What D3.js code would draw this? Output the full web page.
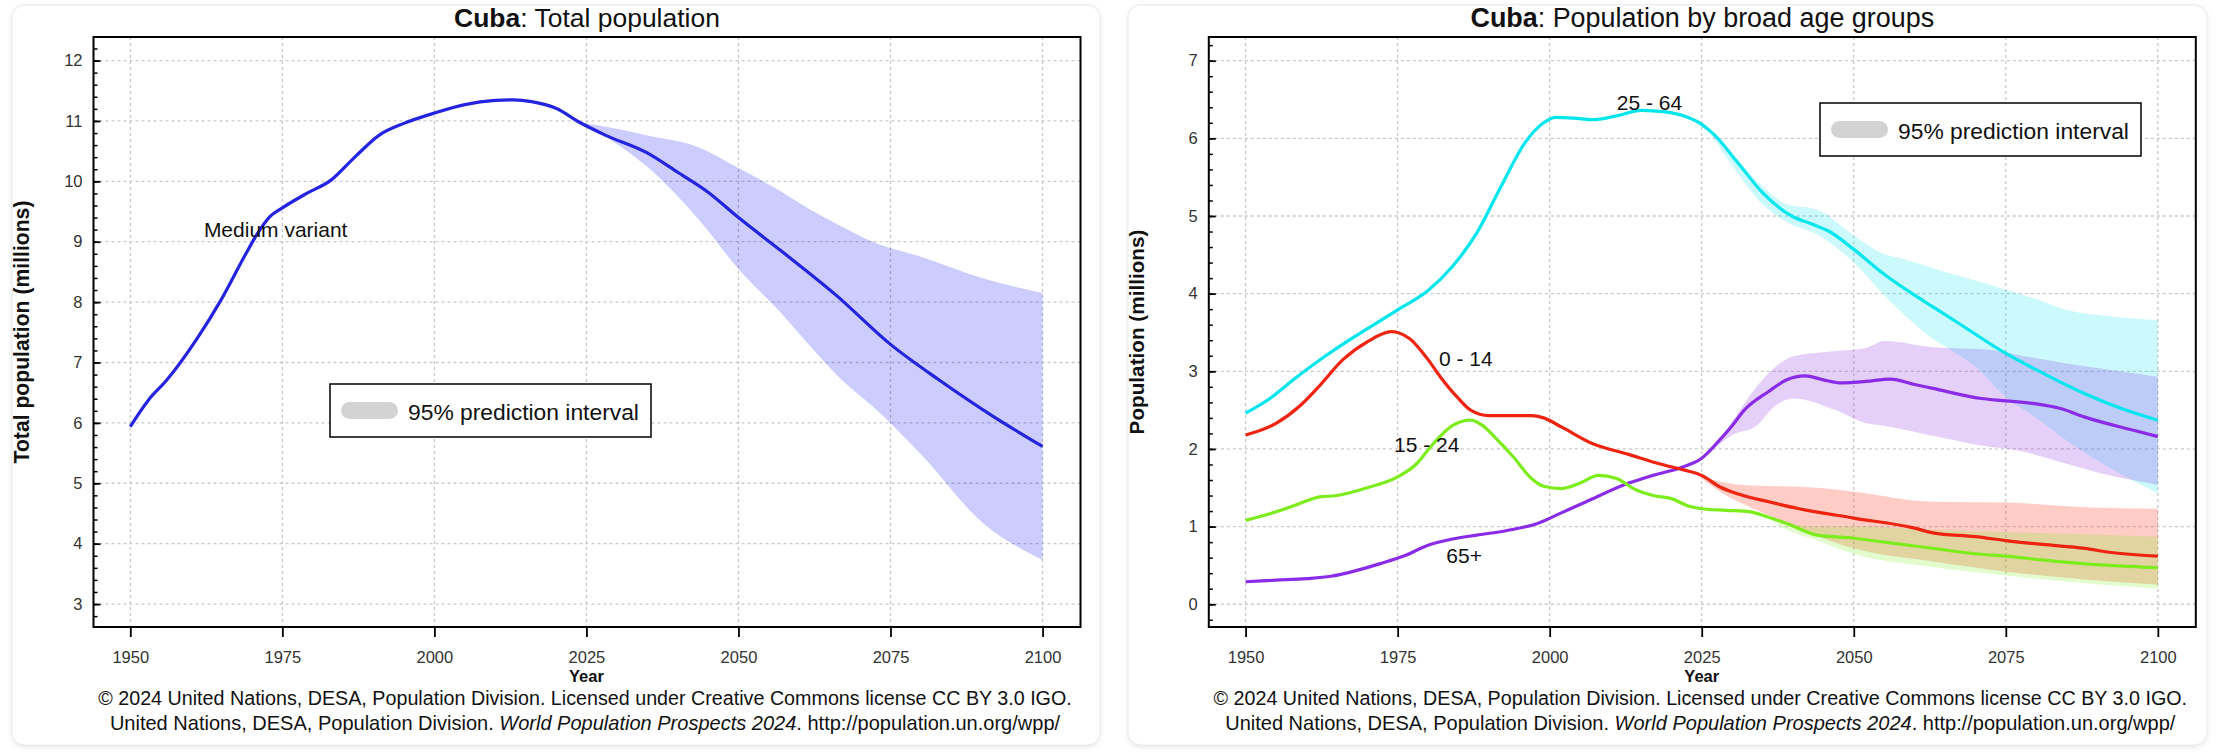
<!DOCTYPE html>
<html lang="en">
<head>
<meta charset="utf-8">
<title>Cuba population</title>
<script src="https://cdn.jsdelivr.net/npm/d3@7"></script>
<style>
  body { margin: 0; background: #ffffff; }
  svg text { font-family: "Liberation Sans", Arial, sans-serif; fill: #111; }
  .tick text { fill: #333; }
</style>
</head>
<body>
<script>

// ---- data (millions) ----
var xTicks = [1950, 1975, 2000, 2025, 2050, 2075, 2100];
var yTicksTotal = [3, 4, 5, 6, 7, 8, 9, 10, 11, 12];
var yTicksAge = [0, 1, 2, 3, 4, 5, 6, 7];

var totalYears = [1950,1953,1956,1961,1965,1969,1971,1973,1975,1979,1983,1987,1991,1995,2000,2005,2010,2013,2016,2020,2024,2028,2035,2040,2045,2050,2057,2066,2075,2083,2092,2100];
var totalPop   = [5.94,6.38,6.71,7.40,8.05,8.80,9.15,9.42,9.56,9.80,10.02,10.41,10.77,10.96,11.13,11.27,11.34,11.35,11.32,11.21,10.97,10.77,10.47,10.15,9.82,9.40,8.85,8.12,7.30,6.71,6.10,5.61];

var totalPiYears = [2024,2030,2035,2043,2050,2057,2062,2067,2072,2080,2090,2100];
var totalPiLow   = [10.97,10.62,10.24,9.42,8.55,7.82,7.25,6.71,6.28,5.48,4.36,3.73];
var totalPiHigh  = [10.97,10.87,10.76,10.58,10.22,9.83,9.52,9.25,9.00,8.75,8.40,8.15];

var years0_14 = [1950,1955,1959,1962,1966,1970,1974,1975,1977,1980,1982,1985,1987,1990,1997,1999,2002,2007,2013,2018,2022,2025,2028,2031,2036,2041,2050,2060,2063,2070,2075,2081,2088,2092,2100];
var pop0_14   = [2.18,2.33,2.56,2.80,3.15,3.38,3.51,3.50,3.42,3.15,2.93,2.65,2.50,2.43,2.43,2.40,2.28,2.07,1.93,1.81,1.73,1.66,1.51,1.42,1.32,1.23,1.11,0.98,0.92,0.87,0.82,0.77,0.72,0.67,0.62];

var years15_24 = [1950,1955,1959,1962,1965,1970,1975,1978,1981,1984,1987,1989,1991,1994,1997,1999,2002,2005,2008,2011,2014,2017,2020,2023,2025,2029,2033,2036,2039,2044,2050,2055,2060,2063,2070,2075,2081,2088,2092,2100];
var pop15_24   = [1.08,1.19,1.30,1.38,1.40,1.50,1.64,1.80,2.08,2.30,2.37,2.30,2.15,1.90,1.62,1.52,1.49,1.56,1.66,1.62,1.48,1.40,1.36,1.26,1.23,1.21,1.19,1.12,1.04,0.89,0.85,0.80,0.75,0.72,0.65,0.62,0.57,0.52,0.50,0.47];

var years25_64 = [1950,1954,1958,1963,1968,1975,1980,1984,1988,1992,1996,1999,2001,2004,2007,2011,2015,2019,2022,2025,2027,2031,2035,2040,2043,2046,2050,2055,2060,2063,2068,2075,2080,2088,2094,2100];
var pop25_64   = [2.46,2.65,2.90,3.19,3.45,3.79,4.04,4.35,4.78,5.38,5.95,6.20,6.27,6.26,6.24,6.29,6.36,6.34,6.29,6.18,6.05,5.68,5.30,4.99,4.90,4.80,4.57,4.25,3.98,3.83,3.58,3.23,3.02,2.71,2.52,2.37];

var years65 = [1950,1955,1960,1964,1968,1972,1976,1980,1984,1988,1993,1998,2002,2006,2013,2017,2022,2025,2028,2030,2032,2036,2039,2042,2045,2048,2052,2056,2060,2063,2071,2075,2080,2084,2088,2096,2100];
var pop65   = [0.29,0.31,0.33,0.36,0.43,0.52,0.62,0.76,0.84,0.89,0.95,1.04,1.18,1.32,1.56,1.66,1.77,1.88,2.12,2.30,2.50,2.74,2.89,2.94,2.89,2.85,2.87,2.90,2.83,2.78,2.65,2.62,2.58,2.52,2.41,2.24,2.16];

// 95% prediction intervals
var pi0_14Years = [2024,2028,2033,2038,2044,2050,2063,2075,2088,2100];
var pi0_14Low   = [1.68,1.45,1.25,1.08,0.88,0.72,0.55,0.42,0.32,0.25];
var pi0_14High  = [1.68,1.58,1.53,1.52,1.50,1.45,1.32,1.31,1.25,1.23];

var pi15_24Years = [2033,2036,2038,2044,2050,2063,2075,2088,2100];
var pi15_24Low   = [1.19,1.10,1.00,0.82,0.65,0.48,0.37,0.27,0.20];
var pi15_24High  = [1.19,1.14,1.08,1.00,1.00,0.96,0.93,0.90,0.87];

var pi25_64Years = [2026,2030,2035,2039,2044,2050,2055,2058,2063,2065,2070,2075,2080,2085,2092,2100];
var pi25_64Low   = [6.12,5.65,5.15,4.92,4.76,4.40,3.98,3.75,3.42,3.32,3.06,2.67,2.40,2.11,1.76,1.43];
var pi25_64High  = [6.12,5.80,5.38,5.15,5.08,4.75,4.51,4.45,4.33,4.28,4.17,4.05,3.93,3.79,3.71,3.66];

var pi65Years = [2026,2030,2034,2037,2040,2047,2052,2055,2063,2072,2077,2085,2092,2100];
var pi65Low   = [1.92,2.18,2.30,2.55,2.65,2.50,2.33,2.30,2.17,2.03,1.98,1.81,1.66,1.54];
var pi65High  = [1.92,2.35,2.80,3.05,3.19,3.26,3.30,3.39,3.31,3.28,3.21,3.10,3.02,2.93];

// ---- layout ----
var W = 2224, H = 756;
var plotW = 987, plotTop = 37, plotBottom = 627;
var xDomain = [1943.95, 2106.24];

var svg = d3.select("body").append("svg")
    .attr("width", W)
    .attr("height", H);

var defs = svg.append("defs");
defs.append("filter").attr("id", "shadow")
    .attr("x", "-5%").attr("y", "-5%").attr("width", "110%").attr("height", "110%")
  .append("feGaussianBlur").attr("stdDeviation", 2.5);

function zipSeries(years, a, b) {
  return years.map(function(yr, i) { return {year: yr, v: a[i], v2: b ? b[i] : null}; });
}

function fitText(sel, width) {
  var w = sel.node().getComputedTextLength();
  var fs = parseFloat(sel.style("font-size"));
  sel.style("font-size", (fs * width / w) + "px");
}

function card(x0, w) {
  svg.append("rect").attr("x", x0).attr("y", 6).attr("width", w).attr("height", 741)
    .attr("rx", 13).attr("fill", "#e4e4e4").attr("filter", "url(#shadow)");
  svg.append("rect").attr("x", x0).attr("y", 5).attr("width", w).attr("height", 740)
    .attr("rx", 13).attr("fill", "#fff").attr("stroke", "#ececec");
}

function panel(cfg) {
  var left = cfg.left;
  var x = d3.scaleLinear().domain(xDomain).range([left, left + plotW]);
  var y = d3.scaleLinear().domain(cfg.yDomain).range([plotBottom, plotTop]);
  var cx = left + plotW / 2;

  var clipId = "clip" + cfg.id;
  defs.append("clipPath").attr("id", clipId).append("rect")
    .attr("x", left).attr("y", plotTop).attr("width", plotW).attr("height", plotBottom - plotTop);

  // grid
  var grid = svg.append("g").attr("stroke", "#c9c9c9").attr("stroke-width", 1.3).attr("stroke-dasharray", "3,3");
  grid.selectAll(".gx").data(xTicks).enter().append("line")
    .attr("x1", function(d) { return x(d); }).attr("x2", function(d) { return x(d); })
    .attr("y1", plotTop).attr("y2", plotBottom);
  grid.selectAll(".gy").data(cfg.yTicks).enter().append("line")
    .attr("x1", left).attr("x2", left + plotW)
    .attr("y1", function(d) { return y(d); }).attr("y2", function(d) { return y(d); });

  var g = svg.append("g").attr("clip-path", "url(#" + clipId + ")");

  var area = d3.area().curve(d3.curveMonotoneX)
    .x(function(d) { return x(d.year); })
    .y0(function(d) { return y(d.v); })
    .y1(function(d) { return y(d.v2); });
  var line = d3.line().curve(d3.curveMonotoneX)
    .x(function(d) { return x(d.year); })
    .y(function(d) { return y(d.v); });

  cfg.bands.forEach(function(b) {
    g.append("path").datum(zipSeries(b.years, b.low, b.high))
      .attr("d", area).attr("fill", b.color).attr("fill-opacity", b.opacity);
  });
  cfg.lines.forEach(function(s) {
    g.append("path").datum(zipSeries(s.years, s.values))
      .attr("d", line).attr("fill", "none").attr("stroke", s.color)
      .attr("stroke-width", 3.2).attr("stroke-linejoin", "round");
  });

  // axes
  var step = 0.2;
  var minor = d3.range(Math.ceil(cfg.yDomain[0] / step), Math.floor(cfg.yDomain[1] / step) + 1)
    .map(function(k) { return +(k * step).toFixed(1); });
  svg.append("g").attr("transform", "translate(" + left + ",0)")
    .call(d3.axisLeft(y).tickValues(minor).tickSize(-4).tickFormat(""))
    .call(function(a) { a.select(".domain").remove(); })
    .selectAll("line").attr("stroke", "#000").attr("stroke-width", 1.5);

  var ya = svg.append("g").attr("transform", "translate(" + left + ",0)")
    .call(d3.axisLeft(y).tickValues(cfg.yTicks).tickSize(-7).tickPadding(11).tickFormat(d3.format("d")));
  ya.select(".domain").remove();
  ya.selectAll("line").attr("stroke", "#000").attr("stroke-width", 1.8);
  ya.selectAll("text").style("font-size", "16.5px").style("font-family", "'Liberation Sans', Arial, sans-serif");

  var xa = svg.append("g").attr("transform", "translate(0," + plotBottom + ")")
    .call(d3.axisBottom(x).tickValues(xTicks).tickSize(10).tickPadding(14).tickFormat(d3.format("d")));
  xa.select(".domain").remove();
  xa.selectAll("line").attr("stroke", "#000").attr("stroke-width", 1.8);
  xa.selectAll("text").style("font-size", "16.5px").style("font-family", "'Liberation Sans', Arial, sans-serif");

  // frame
  svg.append("rect").attr("x", left).attr("y", plotTop).attr("width", plotW).attr("height", plotBottom - plotTop)
    .attr("fill", "none").attr("stroke", "#000").attr("stroke-width", 2);

  // title
  var t = svg.append("text").attr("x", cx).attr("y", 27).attr("text-anchor", "middle").style("font-size", "22px");
  t.append("tspan").attr("font-weight", "bold").text("Cuba");
  t.append("tspan").text(": " + cfg.title);
  fitText(t, cfg.titleWidth);

  // axis titles
  svg.append("text").attr("x", x(2025)).attr("y", 682).attr("text-anchor", "middle")
    .attr("font-weight", "bold").style("font-size", "16.5px").text("Year");
  var yt = svg.append("text").attr("transform", "translate(" + cfg.yTitleX + "," + ((plotTop + plotBottom) / 2) + ") rotate(-90)")
    .attr("text-anchor", "middle").attr("font-weight", "bold").style("font-size", "20px").text(cfg.yTitle);
  fitText(yt, cfg.yTitleLen);

  // legend
  var lg = svg.append("g").attr("transform", "translate(" + cfg.legend[0] + "," + cfg.legend[1] + ")");
  lg.append("rect").attr("width", 321).attr("height", 53).attr("fill", "#fff").attr("stroke", "#000").attr("stroke-width", 1.5);
  lg.append("rect").attr("x", 11).attr("y", 18).attr("width", 57).attr("height", 17).attr("rx", 8.5).attr("fill", "#d3d3d3");
  var lt = lg.append("text").attr("x", 78).attr("y", 35.5).style("font-size", "22px").text("95% prediction interval");
  fitText(lt, 231);

  // series labels
  cfg.labels.forEach(function(l) {
    svg.append("text").attr("x", x(l.year)).attr("y", y(l.v))
      .attr("text-anchor", l.anchor).style("font-size", "21px").text(l.text);
  });

  // footer
  var f1 = svg.append("text").attr("x", cx - 2).attr("y", 705).attr("text-anchor", "middle").style("font-size", "18px")
    .text("\u00a9 2024 United Nations, DESA, Population Division. Licensed under Creative Commons license CC BY 3.0 IGO.");
  fitText(f1, 974);
  var f2 = svg.append("text").attr("x", cx - 2).attr("y", 730).attr("text-anchor", "middle").style("font-size", "18px");
  f2.append("tspan").text("United Nations, DESA, Population Division. ");
  f2.append("tspan").attr("font-style", "italic").text("World Population Prospects 2024");
  f2.append("tspan").text(". http://population.un.org/wpp/");
  fitText(f2, 951);
}

card(12, 1088);
card(1128, 1079);

panel({
  id: "L", left: 93.5, yDomain: [2.62, 12.39], yTicks: yTicksTotal,
  title: "Total population", titleWidth: 266,
  yTitle: "Total population (millions)", yTitleX: 29, yTitleLen: 263,
  legend: [330, 384],
  bands: [{years: totalPiYears, low: totalPiLow, high: totalPiHigh, color: "#0000ff", opacity: 0.2}],
  lines: [{years: totalYears, values: totalPop, color: "#2323e0"}],
  labels: [{text: "Medium variant", year: 1962.1, v: 9.08, anchor: "start"}]
});

panel({
  id: "R", left: 1208.8, yDomain: [-0.293, 7.305], yTicks: yTicksAge,
  title: "Population by broad age groups", titleWidth: 464,
  yTitle: "Population (millions)", yTitleX: 1144, yTitleLen: 205,
  legend: [1820, 103],
  bands: [
    {years: pi25_64Years, low: pi25_64Low, high: pi25_64High, color: "#00e8f0", opacity: 0.2},
    {years: pi65Years, low: pi65Low, high: pi65High, color: "#8a2be8", opacity: 0.22},
    {years: pi0_14Years, low: pi0_14Low, high: pi0_14High, color: "#ff2a10", opacity: 0.24},
    {years: pi15_24Years, low: pi15_24Low, high: pi15_24High, color: "#7cf020", opacity: 0.22}
  ],
  lines: [
    {years: years25_64, values: pop25_64, color: "#00e6ee"},
    {years: years65, values: pop65, color: "#8a2be8"},
    {years: years0_14, values: pop0_14, color: "#ee2410"},
    {years: years15_24, values: pop15_24, color: "#7cec1c"}
  ],
  labels: [
    {text: "25 - 64", year: 2016.4, v: 6.37, anchor: "middle"},
    {text: "0 - 14", year: 1981.8, v: 3.07, anchor: "start"},
    {text: "15 - 24", year: 1974.4, v: 1.96, anchor: "start"},
    {text: "65+", year: 1983.0, v: 0.53, anchor: "start"}
  ]
});

</script>
</body>
</html>
